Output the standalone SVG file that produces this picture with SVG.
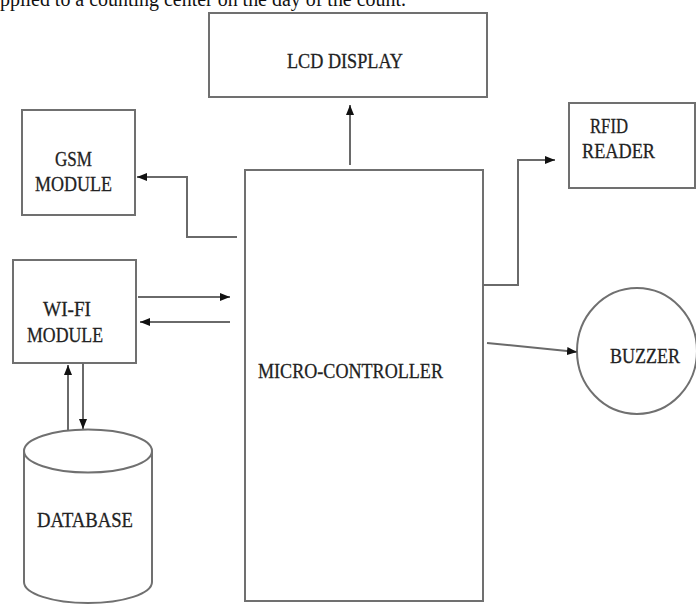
<svg xmlns="http://www.w3.org/2000/svg" width="696" height="605" viewBox="0 0 696 605">
<style>
.box{fill:#fff;stroke:#707070;stroke-width:2}
.con{fill:none;stroke:#6a6a6a;stroke-width:2}
.lbl{font-family:"Liberation Serif","Times New Roman",serif;font-size:22px;fill:#222;stroke:#222;stroke-width:0.3}
.body{font-family:"Liberation Serif","Times New Roman",serif;font-size:20px;fill:#111}
</style>
<defs>
<marker id="ah" markerUnits="userSpaceOnUse" markerWidth="11" markerHeight="9" refX="10" refY="4" orient="auto">
<path d="M0,0 L10,4 L0,8 z" fill="#111"/>
</marker>
</defs>
<rect width="696" height="605" fill="#fff"/>
<text class="body" x="0" y="6" textLength="406" lengthAdjust="spacingAndGlyphs">pplied to a counting center on the day of the count.</text>

<g id="lcd">
<rect class="box" x="209" y="13" width="278" height="84"/>
<text class="lbl" x="287" y="68" textLength="116" lengthAdjust="spacingAndGlyphs">LCD DISPLAY</text>
</g>
<g id="gsm">
<rect class="box" x="22" y="110" width="113" height="105"/>
<text class="lbl" x="55" y="166" textLength="37" lengthAdjust="spacingAndGlyphs">GSM</text>
<text class="lbl" x="35" y="191" textLength="77" lengthAdjust="spacingAndGlyphs">MODULE</text>
</g>
<g id="rfid">
<rect class="box" x="569" y="103" width="126" height="85"/>
<text class="lbl" x="590" y="133" textLength="38" lengthAdjust="spacingAndGlyphs">RFID</text>
<text class="lbl" x="582" y="158" textLength="73" lengthAdjust="spacingAndGlyphs">READER</text>
</g>
<g id="wifi">
<rect class="box" x="13" y="260" width="123" height="103"/>
<text class="lbl" x="43" y="316" textLength="48" lengthAdjust="spacingAndGlyphs">WI-FI</text>
<text class="lbl" x="27" y="342" textLength="76" lengthAdjust="spacingAndGlyphs">MODULE</text>
</g>
<g id="mcu">
<rect class="box" x="245" y="170" width="238" height="431"/>
<text class="lbl" x="258" y="378" textLength="185" lengthAdjust="spacingAndGlyphs">MICRO-CONTROLLER</text>
</g>
<g id="buzzer">
<ellipse class="box" cx="637" cy="351" rx="60" ry="63"/>
<text class="lbl" x="610" y="363" textLength="70" lengthAdjust="spacingAndGlyphs">BUZZER</text>
</g>
<g id="database">
<path class="box" d="M24,451 L24,582 A64,21 0 0 0 152,582 L152,451"/>
<ellipse class="box" cx="88" cy="451" rx="64" ry="21.5"/>
<text class="lbl" x="37" y="527" textLength="96" lengthAdjust="spacingAndGlyphs">DATABASE</text>
</g>

<g id="connectors">
<line class="con" x1="350" y1="165" x2="350" y2="105" marker-end="url(#ah)"/>
<polyline class="con" points="237,237 187,237 187,177 137,177" marker-end="url(#ah)"/>
<polyline class="con" points="483,285 518,285 518,160 555,160" marker-end="url(#ah)"/>
<line class="con" x1="487" y1="343" x2="577" y2="352" marker-end="url(#ah)"/>
<line class="con" x1="138" y1="297" x2="230" y2="297" marker-end="url(#ah)"/>
<line class="con" x1="230" y1="322" x2="140" y2="322" marker-end="url(#ah)"/>
<line class="con" x1="68" y1="430" x2="68" y2="365" marker-end="url(#ah)"/>
<line class="con" x1="83" y1="363" x2="83" y2="429" marker-end="url(#ah)"/>
</g>
</svg>
